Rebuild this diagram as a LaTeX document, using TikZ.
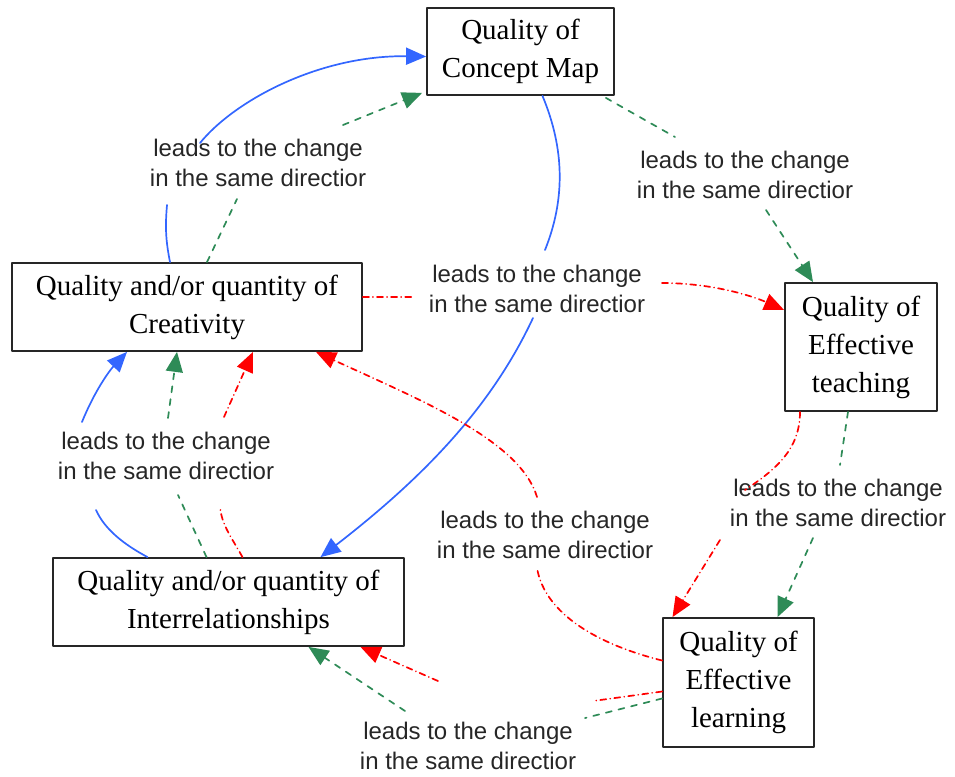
\documentclass[tikz,border=0pt]{standalone}
\usepackage{fontspec}
\setmainfont{Liberation Serif}
\newfontfamily\lblfont{Liberation Sans}
\usetikzlibrary{arrows.meta}
\definecolor{lnblue}{HTML}{3366FF}
\definecolor{lngreen}{HTML}{2E8B57}
\definecolor{lnred}{HTML}{FF0000}
\begin{document}
\begin{tikzpicture}[x=1pt,y=-1pt,>={Triangle[length=20pt,width=17pt]},line join=round,line cap=round,
            box/.style={draw=black!85,line width=1.8pt,align=center,inner sep=0pt,font=\fontsize{29}{38}\selectfont},
            lbl/.style={align=center,text=black!85,font=\lblfont\fontsize{24}{30}\selectfont},
            blu/.style={lnblue,line width=1.7pt},
            grn/.style={lngreen,line width=1.7pt,dash pattern=on 6pt off 7pt},
            rd/.style={lnred,line width=1.7pt,dash pattern=on 6pt off 4pt on 0.1pt off 4pt}]
            \useasboundingbox (0,0) rectangle (955,776);
            \node[box,minimum width=187pt,minimum height=87pt] (cm) at (520.5,51.5) {Quality of\\Concept Map};
            \node[box,minimum width=350pt,minimum height=88pt] (cr) at (187,307) {Quality and/or quantity of\\Creativity};
            \node[box,minimum width=351pt,minimum height=88pt] (ir) at (228.5,602) {Quality and/or quantity of\\Interrelationships};
            \node[box,minimum width=152pt,minimum height=128pt] (et) at (861,347) {Quality of\\Effective\\teaching};
            \node[box,minimum width=151pt,minimum height=129pt] (el) at (738.5,682.5) {Quality of\\Effective\\learning};
            \foreach \n/\x/\y in {l1/258/163,l2/745/175,l3/537/289,l4/166/456,l5/545/535,l6/838/503,l7/468/746}
            \node[lbl] (\n) at (\x,\y) {leads to the change\\in the same directior};
            \coordinate (b1a) at (167,205); \coordinate (b1b) at (200,143);
            \coordinate (g1a) at (237,199); \coordinate (g1b) at (343,125);
            \coordinate (g2a) at (675,137); \coordinate (g2b) at (766,210);
            \coordinate (b2a) at (545,250); \coordinate (b2b) at (533,318);
            \coordinate (r1a) at (413,297); \coordinate (r1b) at (662,283);
            \coordinate (b3a) at (96,510);  \coordinate (b3b) at (82,422);
            \coordinate (g3a) at (178,495); \coordinate (g3b) at (168,418);
            \coordinate (r2a) at (220,507); \coordinate (r2b) at (224,417);
            \coordinate (r3a) at (537,568); \coordinate (r3b) at (537,497);
            \coordinate (r4a) at (745,490); \coordinate (r4b) at (720,540);
            \coordinate (g4a) at (840,465); \coordinate (g4b) at (813,538);
            \coordinate (r5a) at (593,701); \coordinate (r5b) at (438,681);
            \coordinate (g5a) at (585,718); \coordinate (g5b) at (405,711);
            \draw[blu] ([xshift=-17pt]cr.north) to[bend left=8] (b1a);
            \draw[blu,->] (b1b) .. controls (235,100) and (320,55) .. ([yshift=-5pt]cm.west);
            \draw[grn] ([xshift=20pt]cr.north) -- (g1a);
            \draw[grn,->] (g1b) -- ([xshift=-4pt,yshift=3pt]cm.south west);
            \draw[grn] ([xshift=-9pt,yshift=-2pt]cm.south east) -- (g2a);
            \draw[grn,->] (g2b) -- ([xshift=-48pt]et.north);
            \draw[blu] ([xshift=22pt]cm.south) .. controls (565,150) and (565,200) .. (b2a);
            \draw[blu,->] (b2b) .. controls (490,410) and (420,480) .. ([xshift=92pt]ir.north);
            \draw[rd] ([yshift=10pt]cr.east) -- (r1a);
            \draw[rd,->] (r1b) .. controls (710,283) and (750,295) .. ([yshift=37pt]et.west);
            \draw[blu] ([xshift=-81pt]ir.north) .. controls (125,545) and (105,530) .. (b3a);
            \draw[blu,->] (b3b) .. controls (95,390) and (110,370) .. ([xshift=-60pt]cr.south);
            \draw[grn] ([xshift=-22pt]ir.north) -- (g3a);
            \draw[grn,->] (g3b) -- ([xshift=-10pt]cr.south);
            \draw[rd] ([xshift=14pt]ir.north) .. controls (230,535) and (222,525) .. (r2a);
            \draw[rd,->] (r2b) -- ([xshift=66pt]cr.south);
            \draw[rd] ([yshift=22pt]el.west) .. controls (600,645) and (545,615) .. (r3a);
            \draw[rd,->] (r3b) .. controls (520,440) and (420,400) .. ([xshift=129pt]cr.south);
            \draw[rd] ([xshift=-61pt]et.south) .. controls (800,450) and (775,470) .. (r4a);
            \draw[rd,->] (r4b) -- ([xshift=-66pt]el.north);
            \draw[grn] ([xshift=-13pt]et.south) -- (g4a);
            \draw[grn,->] (g4b) -- ([xshift=39pt]el.north);
            \draw[rd] ([yshift=-9pt]el.west) -- (r5a);
            \draw[rd,->] (r5b) -- ([xshift=132pt]ir.south);
            \draw[grn] ([yshift=-16pt]el.west) -- (g5a);
            \draw[grn,->] (g5b) -- ([xshift=80pt]ir.south);
\end{tikzpicture}
\end{document}
